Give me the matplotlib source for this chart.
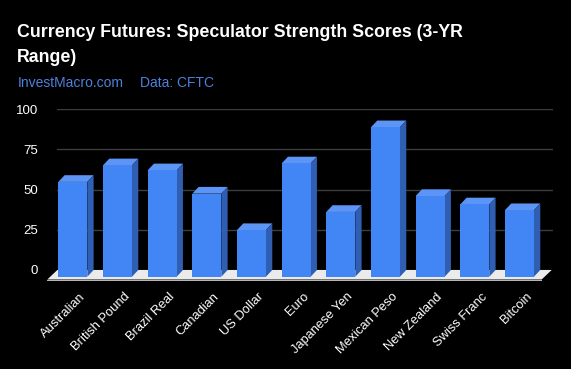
import numpy as np
import matplotlib
matplotlib.use('Agg')
import matplotlib.pyplot as plt
from matplotlib.collections import PolyCollection
from matplotlib.patches import Polygon

currencies = ['Australian', 'British Pound', 'Brazil Real', 'Canadian', 'US Dollar', 'Euro',
              'Japanese Yen', 'Mexican Peso', 'New Zealand', 'Swiss Franc', 'Bitcoin']
scores = [59, 69.3, 66.2, 51.7, 29, 70.5, 40.3, 93, 50.2, 45, 41.4]
y_ticks = [0, 25, 50, 75, 100]

title_lines = ['Currency Futures: Speculator Strength Scores (3-YR', 'Range)']
source_site = 'InvestMacro.com'
source_data = 'Data: CFTC'

plt.rcParams['font.family'] = ['Liberation Sans', 'DejaVu Sans']

W, H = 571, 369
fig = plt.figure(figsize=(W / 100, H / 100), dpi=100, facecolor='black')

# back plane of the chart, in pixels
left_px, right_px = 56.8, 553.0
top_px, zero_px = 109.3, 270.0
ax = fig.add_axes([left_px / W, (H - zero_px) / H, (right_px - left_px) / W, (zero_px - top_px) / H])
ax.set_facecolor('black')
xmax = 10.61
ax.set_xlim(-0.5, xmax)
ax.set_ylim(0, 100)

px_x = (right_px - left_px) / (xmax + 0.5)
px_y = (zero_px - top_px) / 100.0

# depth of the fake 3d bars
ddx = 6.3 / px_x
ddy = 6.7 / px_y
w = 29 / px_x

x = np.arange(len(currencies))
vals = np.array(scores)

for t in y_ticks:
    ax.axhline(t, color='#3d3d3d', lw=1, zorder=0)

# floor
fdx = 10 / px_x
fdy = 9.5 / px_y
fx0, fx1 = -0.5 + 0.5 / px_x, 10.58
ax.add_patch(Polygon([(fx0, 0), (fx1, 0), (fx1 - fdx, -fdy), (fx0 - fdx, -fdy)],
                     closed=True, facecolor='#ebebeb', edgecolor='none', zorder=1, clip_on=False))
ax.add_patch(Polygon([(fx0 - fdx, -fdy), (fx1 - fdx, -fdy), (fx1 - fdx, -fdy - 1.6 / px_y),
                      (fx0 - fdx, -fdy - 1.6 / px_y)],
                     closed=True, facecolor='#b5b5b5', edgecolor='none', zorder=1, clip_on=False))

# front faces
ax.bar(x - ddx, vals, width=w, bottom=-ddy, color='#4285f4', edgecolor='none',
       zorder=3, clip_on=False)

tops = []
sides = []
for xi, v in zip(x, vals):
    l, r = xi - w / 2, xi + w / 2
    tops.append([(l - ddx, v - ddy), (r - ddx, v - ddy), (r, v), (l, v)])
    sides.append([(r - ddx, -ddy), (r, 0), (r, v), (r - ddx, v - ddy)])
ax.add_collection(PolyCollection(tops, facecolors='#5c95f5', edgecolors='none', zorder=2, clip_on=False))
ax.add_collection(PolyCollection(sides, facecolors='#2f5eb2', edgecolors='none', zorder=2, clip_on=False))

for s in ax.spines.values():
    s.set_visible(False)

ax.set_yticks(y_ticks)
ax.set_yticklabels([str(t) for t in y_ticks], color='white', fontsize=9.5)
ax.tick_params(axis='y', length=0, pad=13.5)

ax.set_xticks(x)
ax.set_xticklabels(currencies, color='white', fontsize=9.3, rotation=45,
                   ha='right', va='top', rotation_mode='anchor')
ax.tick_params(axis='x', length=0, pad=15)

fig.text(17 / W, 1 - 36.7 / H, title_lines[0], color='white', fontsize=12.8, fontweight='bold', va='baseline')
fig.text(17 / W, 1 - 61.7 / H, title_lines[1], color='white', fontsize=12.8, fontweight='bold', va='baseline')
fig.text(18 / W, 1 - 86.7 / H, source_site, color='#4f7fdc', fontsize=10, va='baseline')
fig.text(140 / W, 1 - 86.7 / H, source_data, color='#4f7fdc', fontsize=10, va='baseline')

fig.savefig('out.png', dpi=100, facecolor='black')
